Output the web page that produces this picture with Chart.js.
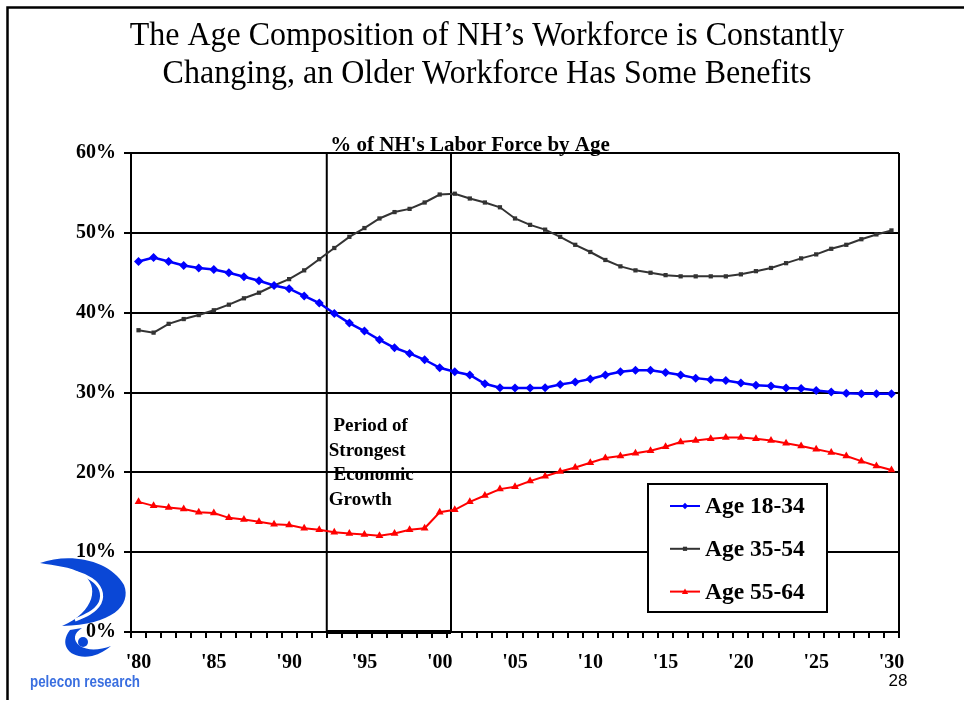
<!DOCTYPE html>
<html>
<head>
<meta charset="utf-8">
<script src="https://cdn.jsdelivr.net/npm/chart.js@4/dist/chart.umd.min.js"></script>
<style>
  html, body { margin: 0; padding: 0; background: #fff; }
  #chart { display: block; }
</style>
</head>
<body>
<canvas id="chart" width="964" height="723"></canvas>
<script>
const years = [
  1980, 1981, 1982, 1983, 1984, 1985, 1986, 1987, 1988, 1989,
  1990, 1991, 1992, 1993, 1994, 1995, 1996, 1997, 1998, 1999,
  2000, 2001, 2002, 2003, 2004, 2005, 2006, 2007, 2008, 2009,
  2010, 2011, 2012, 2013, 2014, 2015, 2016, 2017, 2018, 2019,
  2020, 2021, 2022, 2023, 2024, 2025, 2026, 2027, 2028, 2029,
  2030
];
const tickLabels = ["'80", "'85", "'90", "'95", "'00", "'05", "'10", "'15", "'20", "'25", "'30"];

// % of labor force
const age1834 = [
  46.4, 46.9, 46.4, 45.9, 45.6, 45.4, 45.0, 44.5, 44.0, 43.4,
  43.0, 42.1, 41.2, 39.9, 38.7, 37.7, 36.6, 35.6, 34.9, 34.1,
  33.1, 32.6, 32.2, 31.1, 30.6, 30.55, 30.55, 30.6, 31.0, 31.3,
  31.7, 32.2, 32.6, 32.8, 32.8, 32.5, 32.2, 31.8, 31.6, 31.5,
  31.2, 30.9, 30.8, 30.55, 30.5, 30.25, 30.05, 29.9, 29.85, 29.85,
  29.85
];
const age3554 = [
  37.8, 37.5, 38.6, 39.2, 39.7, 40.3, 41.0, 41.8, 42.5, 43.4,
  44.2, 45.3, 46.7, 48.1, 49.5, 50.6, 51.8, 52.6, 53.0, 53.8,
  54.8, 54.9, 54.3, 53.8, 53.2, 51.8, 51.0, 50.4, 49.5, 48.5,
  47.6, 46.6, 45.8, 45.3, 45.0, 44.7, 44.55, 44.55, 44.55, 44.55,
  44.8, 45.2, 45.6, 46.2, 46.8, 47.3, 48.0, 48.5, 49.2, 49.8,
  50.3
];
const age5564 = [
  16.3, 15.8, 15.6, 15.4, 15.0, 14.9, 14.3, 14.1, 13.8, 13.5,
  13.4, 13.0, 12.8, 12.5, 12.35, 12.2, 12.05, 12.35, 12.8, 13.0,
  15.0, 15.3, 16.3, 17.1, 17.9, 18.2, 18.9, 19.5, 20.1, 20.6,
  21.2, 21.8, 22.05, 22.4, 22.7, 23.2, 23.8, 24.0, 24.2, 24.35,
  24.35, 24.2, 24.0, 23.65, 23.3, 22.9, 22.5, 22.05, 21.4, 20.8,
  20.3
];

const seriesNames = ["Age 18-34", "Age 35-54", "Age 55-64"];
const titleLines = [
  "The Age Composition of NH\u2019s Workforce is Constantly",
  "Changing, an Older Workforce Has Some Benefits"
];
const chartTitle = "% of NH's Labor Force by Age";
const noteLines = [" Period of", "Strongest", " Economic", "Growth"];
// growth period, in category index units (between '92/'93 and just past '00)
const periodStart = 12.5;
const periodEnd = 20.75;

const SERIF = "'Liberation Serif', 'Times New Roman', serif";

// helper: category index (may be fractional) -> pixel
function catPx(x, v) {
  const p0 = x.getPixelForValue(0);
  const p1 = x.getPixelForValue(1);
  return p0 + v * (p1 - p0);
}

const slidePlugin = {
  id: "slide",
  beforeDraw(chart) {
    const ctx = chart.ctx;
    ctx.save();
    ctx.fillStyle = "#fff";
    ctx.fillRect(0, 0, chart.width, chart.height);
    // slide frame
    ctx.strokeStyle = "#000";
    ctx.lineWidth = 2.5;
    ctx.beginPath();
    ctx.moveTo(7.5, 700);
    ctx.lineTo(7.5, 7.5);
    ctx.lineTo(964, 7.5);
    ctx.stroke();
    // main title (slightly tall, like the slide font)
    ctx.fillStyle = "#000";
    ctx.font = "32px " + SERIF;
    ctx.textAlign = "center";
    ctx.textBaseline = "alphabetic";
    ctx.save();
    ctx.translate(487, 45);
    ctx.scale(1, 1.06);
    ctx.fillText(titleLines[0], 0, 0);
    ctx.restore();
    ctx.save();
    ctx.translate(487, 83);
    ctx.scale(1, 1.06);
    ctx.fillText(titleLines[1], 0, 0);
    ctx.restore();
    ctx.restore();
  },
  beforeDatasetsDraw(chart) {
    const ctx = chart.ctx;
    const a = chart.chartArea;
    const x = chart.scales.x;
    const xs = catPx(x, periodStart);
    const xe = catPx(x, periodEnd);
    ctx.save();
    ctx.strokeStyle = "#000";
    ctx.lineWidth = 2;
    ctx.beginPath();
    ctx.moveTo(xs, a.top);
    ctx.lineTo(xs, a.bottom);
    ctx.moveTo(xe, a.top);
    ctx.lineTo(xe, a.bottom);
    // right side of plot box
    ctx.moveTo(a.right, a.top);
    ctx.lineTo(a.right, a.bottom);
    ctx.stroke();
    ctx.lineWidth = 4;
    ctx.beginPath();
    ctx.moveTo(xs, a.bottom);
    ctx.lineTo(xe, a.bottom);
    ctx.stroke();
    ctx.restore();
  },
  afterDraw(chart) {
    const ctx = chart.ctx;
    const x = chart.scales.x;
    ctx.save();
    // chart title
    ctx.fillStyle = "#000";
    ctx.font = "bold 21px " + SERIF;
    ctx.textAlign = "center";
    ctx.textBaseline = "alphabetic";
    ctx.fillText(chartTitle, 470, 151);

    // annotation
    ctx.font = "bold 19px " + SERIF;
    ctx.textAlign = "left";
    const nx = catPx(x, periodStart) + 2;
    noteLines.forEach((t, i) => ctx.fillText(t, nx, 431 + i * 24.5));

    // legend box
    const lx = 648, ly = 484, lw = 179, lh = 128;
    ctx.fillStyle = "#fff";
    ctx.fillRect(lx, ly, lw, lh);
    ctx.strokeStyle = "#000";
    ctx.lineWidth = 2;
    ctx.strokeRect(lx, ly, lw, lh);
    ctx.font = "bold 23.5px " + SERIF;
    ctx.textBaseline = "middle";
    chart.data.datasets.forEach((ds, i) => {
      const cy = 506 + i * 42.8;
      ctx.strokeStyle = ds.borderColor;
      ctx.lineWidth = 2;
      ctx.beginPath();
      ctx.moveTo(670, cy);
      ctx.lineTo(700, cy);
      ctx.stroke();
      ctx.fillStyle = ds.borderColor;
      drawMarker(ctx, ds.pointStyle, 685, cy, ds.pointRadius * 0.7);
      ctx.fillStyle = "#000";
      ctx.fillText(ds.label, 705, cy + 1);
    });

    // page number
    ctx.font = "17px 'Liberation Sans', Arial, sans-serif";
    ctx.textAlign = "center";
    ctx.textBaseline = "alphabetic";
    ctx.fillText("28", 898, 686);

    drawLogo(ctx);
    ctx.restore();
  }
};

function drawMarker(ctx, style, cx, cy, r) {
  ctx.beginPath();
  if (style === "rectRot") {
    ctx.moveTo(cx, cy - r); ctx.lineTo(cx + r, cy); ctx.lineTo(cx, cy + r); ctx.lineTo(cx - r, cy);
  } else if (style === "triangle") {
    ctx.moveTo(cx, cy - r); ctx.lineTo(cx + r, cy + r * 0.8); ctx.lineTo(cx - r, cy + r * 0.8);
  } else {
    ctx.rect(cx - r, cy - r, 2 * r, 2 * r);
  }
  ctx.closePath();
  ctx.fill();
}

// pelecon research logo, rough
function drawLogo(ctx) {
  ctx.save();
  ctx.fillStyle = "#0a47d6";
  // outer crescent
  ctx.beginPath();
  ctx.moveTo(40, 563);
  ctx.bezierCurveTo(70, 552, 110, 560, 124, 585);
  ctx.bezierCurveTo(132, 605, 112, 625, 62, 626);
  ctx.bezierCurveTo(95, 612, 100, 585, 82, 574);
  ctx.bezierCurveTo(70, 566, 55, 566, 40, 563);
  ctx.fill();
  // white inner sweep
  ctx.strokeStyle = "#fff";
  ctx.lineWidth = 3;
  ctx.beginPath();
  ctx.moveTo(52, 572);
  ctx.bezierCurveTo(85, 568, 108, 585, 100, 603);
  ctx.bezierCurveTo(95, 612, 85, 616, 75, 620);
  ctx.stroke();
  // lower swirl
  ctx.beginPath();
  ctx.moveTo(70, 630);
  ctx.bezierCurveTo(58, 645, 70, 660, 92, 656);
  ctx.bezierCurveTo(100, 654, 106, 650, 111, 646);
  ctx.bezierCurveTo(100, 650, 88, 651, 80, 646);
  ctx.bezierCurveTo(72, 640, 74, 633, 82, 628);
  ctx.closePath();
  ctx.fill();
  ctx.beginPath();
  ctx.arc(83, 642, 5, 0, Math.PI * 2);
  ctx.fill();
  // name
  ctx.fillStyle = "#3a6fe0";
  ctx.font = "bold 17px 'Liberation Sans Narrow', 'Liberation Sans', sans-serif";
  ctx.textAlign = "left";
  ctx.textBaseline = "alphabetic";
  ctx.fillText("pelecon research", 30, 687, 110);
  ctx.restore();
}

const data = {
  labels: years,
  datasets: [
    {
      label: seriesNames[0],
      data: age1834,
      borderColor: "#0000ff",
      backgroundColor: "#0000ff",
      borderWidth: 2.5,
      pointStyle: "rectRot",
      pointRadius: 4.5,
      pointBorderWidth: 0,
    },
    {
      label: seriesNames[1],
      data: age3554,
      borderColor: "#333333",
      backgroundColor: "#333333",
      borderWidth: 2,
      pointStyle: "rect",
      pointRadius: 3,
      pointBorderWidth: 0,
    },
    {
      label: seriesNames[2],
      data: age5564,
      borderColor: "#ff0000",
      backgroundColor: "#ff0000",
      borderWidth: 2,
      pointStyle: "triangle",
      pointRadius: 4.5,
      pointBorderWidth: 0,
    },
  ],
};

const config = {
  type: "line",
  data: data,
  options: {
    responsive: false,
    animation: false,
    events: [],
    layout: { padding: { top: 153, right: 65, left: 0, bottom: 0 } },
    elements: { line: { tension: 0 } },
    plugins: {
      legend: { display: false },
      title: { display: false },
      tooltip: { enabled: false },
    },
    scales: {
      x: {
        type: "category",
        offset: true,
        afterFit: (s) => { s.height = 91; },
        grid: {
          offset: true,
          drawOnChartArea: false,
          drawTicks: true,
          tickLength: 6,
          color: "#000",
          lineWidth: 2,
        },
        border: { color: "#000", width: 2 },
        ticks: {
          autoSkip: false,
          maxRotation: 0,
          padding: 13,
          color: "#000",
          font: { family: SERIF, size: 20, weight: "bold" },
          callback: (v, i) => (i % 5 === 0 ? tickLabels[i / 5] : ""),
        },
      },
      y: {
        min: 0,
        max: 60,
        afterFit: (s) => { s.width = 131; },
        grid: { color: "#000", lineWidth: 2, tickLength: 7 },
        border: { color: "#000", width: 2 },
        ticks: {
          stepSize: 10,
          padding: 8,
          color: "#000",
          font: { family: SERIF, size: 20, weight: "bold" },
          callback: (v) => v + "%",
        },
      },
    },
  },
  plugins: [slidePlugin],
};

let ctx = document.getElementById("chart");
const workforceChart = new Chart(ctx, config);
</script>
</body>
</html>
